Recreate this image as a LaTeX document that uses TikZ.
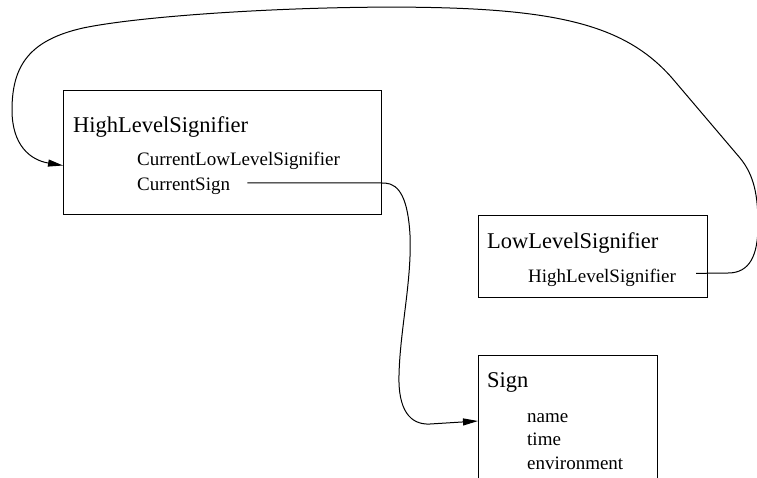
\documentclass[tikz,border=0pt]{standalone}
\usepackage{fontspec}
\setmainfont{Liberation Serif}
\newfontfamily\umlfont{Liberation Serif}
\usetikzlibrary{arrows.meta}
\tikzset{
  cls/.style = {rectangle, draw, line width=1pt, anchor=north west,
                inner sep=0pt},
  ttl/.style = {anchor=base west, inner sep=0pt,
                font=\umlfont\fontsize{22.5}{27}\selectfont},
  att/.style = {anchor=base west, inner sep=0pt,
                font=\umlfont\fontsize{19}{23}\selectfont},
  ed/.style  = {-{Triangle[length=15pt,width=7pt]}, line width=1pt},
}

\begin{document}
\begin{tikzpicture}[x=1pt,y=-1pt]
  \useasboundingbox (0,0) rectangle (757,477);
  % classes
  \node[cls,minimum width=318,minimum height=124] (hls) at (63,90) {};
  \node[cls,minimum width=229,minimum height=82] (lls) at (478,215) {};
  \node[cls,minimum width=179,minimum height=160] (sign) at (478,355) {};
  % titles and attributes
  \node[ttl] (hlsttl) at (73,132) {HighLevelSignifier};
  \node[att] (curlls) at (137,165) {CurrentLowLevelSignifier};
  \node[att] (cursign) at (137,190) {CurrentSign};
  \node[ttl] (llsttl) at (487,248) {LowLevelSignifier};
  \node[att] (llsatt) at (528,282) {HighLevelSignifier};
  \node[ttl] (signttl) at (487,387) {Sign};
  \node[att] (nm) at (527,422) {name};
  \node[att] (tm) at (527,445) {time};
  \node[att] (env) at (527,469) {environment};
  % links
  \draw[ed] ([shift={(17,-3)}]cursign.east) -- (385,183)
    .. controls (400,184) and (408,200) .. (410,235)
    .. controls (412,280) and (400,330) .. (399,375)
    .. controls (398,410) and (410,425) .. (430,424)
    -- ([yshift=-66pt]sign.north west);
  \draw[ed] ([shift={(20,-4)}]llsatt.east) -- (728,273)
    .. controls (750,273) and (758,255) .. (758,225)
    .. controls (758,195) and (754,175) .. (740,158) -- (672,78)
    .. controls (630,30) and (570,12) .. (450,8)
    .. controls (330,4) and (150,14) .. (83,28)
    .. controls (30,40) and (12,65) .. (12,110)
    .. controls (12,145) and (30,160) .. ([yshift=-13pt]hls.west);
\end{tikzpicture}
\end{document}
